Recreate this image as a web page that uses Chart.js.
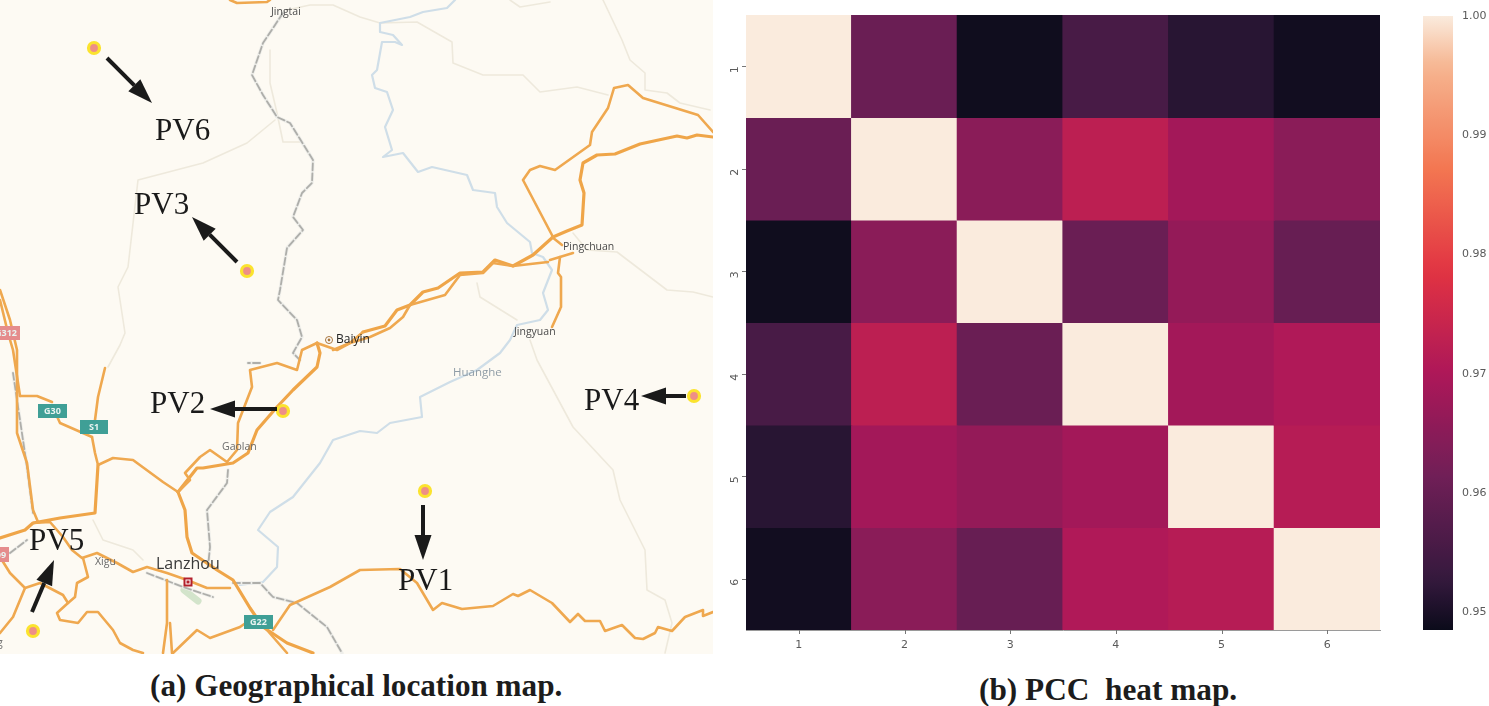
<!DOCTYPE html>
<html>
<head>
<meta charset="utf-8">
<script src="https://cdn.jsdelivr.net/npm/chart.js@4/dist/chart.umd.min.js"></script>
<style>
html,body{margin:0;padding:0;background:#fff;overflow:hidden;width:1489px;height:706px}
.box{position:absolute}
.cap{position:absolute;font-family:"Liberation Serif",serif;font-weight:bold;color:#1c1c1c;white-space:pre;line-height:1}
</style>
</head>
<body>
<div class="box" style="left:0;top:0;width:713px;height:654px"><canvas id="map"></canvas></div>
<div class="box" style="left:715px;top:0;width:680px;height:660px"><canvas id="heat"></canvas></div>
<div class="box" style="left:1400px;top:0;width:89px;height:660px"><canvas id="bar"></canvas></div>
<div class="cap" id="capA" style="left:150px;top:670px;font-size:31.2px">(a) Geographical location map.</div>
<div class="cap" id="capB" style="left:979px;top:674px;font-size:31.3px">(b) PCC  heat map.</div>
<script>
/* ---------- heat map data ---------- */
const heatLabels = ['1','2','3','4','5','6'];
const row1 = [1.000,0.9605,0.9490,0.9555,0.9515,0.9492];
const row2 = [0.9605,1.000,0.9650,0.9725,0.9685,0.9650];
const row3 = [0.9490,0.9650,1.000,0.9605,0.9665,0.9600];
const row4 = [0.9555,0.9725,0.9605,1.000,0.9685,0.9705];
const row5 = [0.9515,0.9685,0.9665,0.9685,1.000,0.9715];
const row6 = [0.9492,0.9650,0.9600,0.9705,0.9715,1.000];
const heatRows = [row1,row2,row3,row4,row5,row6];
const colorbarTicks = [0.95,0.96,0.97,0.98,0.99,1.00];
const colorbarMin = 0.9485, colorbarMax = 1.0;

/* ---------- map data: sites, roads, rivers ---------- */
const siteNames = ['PV1','PV2','PV3','PV4','PV5','PV6'];
const sitePoints = [[425,491],[283,411],[247,271],[694,396],[33,631],[94,48]];
const siteLabelAnchors = [[398,590],[150,413],[134,214],[584,410],[29,550],[155,140]];
const arrowTails = [[423,505],[277,409],[237,262],[686,396],[32,612],[107,58]];
const arrowTips = [[423,560],[210,409],[192,217],[641,396],[54,560],[152,103]];

const roadMainA=[[363,332],[385,326],[397,310],[410,305],[423,292],[438,288],[460,273],[483,272],[495,260],[513,266],[533,255],[553,237],[567,231],[582,225],[584,193],[580,180],[583,163],[597,155],[615,154],[640,144],[677,136],[687,138],[697,135],[713,137]];
const roadMainB=[[333,350],[350,343],[370,337],[390,328],[403,317],[410,305],[445,295],[460,275],[483,273],[493,263],[513,266]];
const roadLoop=[[553,237],[523,180],[530,170],[540,166],[555,170],[590,145],[592,132],[608,108],[614,88],[628,85],[643,98],[698,115],[713,132]];
const roadStub1=[[552,237],[562,245]];
const roadStub2=[[513,266],[548,262]];
const roadStub3=[[550,260],[573,253]];
const roadJingyuan=[[560,257],[558,273],[561,277],[561,307],[552,327]];
const roadBaiyin=[[317,343],[337,350],[350,343],[363,332]];
const roadGaolanA=[[317,343],[320,353],[317,367],[293,390],[277,407],[257,430],[248,453],[233,463],[203,468],[197,468],[178,492]];
const roadGaolanB=[[317,343],[302,350],[297,370],[277,363],[250,370],[252,387],[238,423],[237,450],[227,462],[210,450],[200,457],[185,473],[190,480],[178,492]];
const roadSouth=[[178,492],[185,510],[187,537],[192,553],[217,570],[233,580],[250,608],[263,627],[287,643],[313,653]];
const roadWest=[[178,492],[163,482],[133,460],[113,458],[98,465],[95,453],[92,437]];
const roadWest2=[[98,465],[95,513],[60,518],[33,523],[25,530],[0,538]];
const roadS1=[[95,420],[98,397],[105,368]];
const roadG30=[[92,437],[60,423],[55,412]];
const roadG30b=[[52,402],[37,396],[20,396]];
const roadNW1=[[0,290],[10,320],[17,350],[17,433],[27,463],[33,510],[38,522]];
const roadNW2=[[0,300],[8,333],[13,350],[20,396]];
const roadCity=[[33,523],[50,522],[63,537],[72,550],[82,558],[97,553],[117,563],[133,572],[147,567],[167,573],[187,580],[207,588],[230,588]];
const roadSW1=[[83,558],[88,577],[77,583],[75,597],[68,603],[57,613],[60,620],[78,623],[87,612],[98,612],[113,630],[120,643],[133,650],[143,653]];
const roadSW2=[[0,557],[10,573],[25,588],[40,583],[63,595],[68,603]];
const roadSW3=[[25,588],[13,617],[0,633]];
const roadCityS1=[[167,580],[167,623],[163,653]];
const roadCityS2=[[172,653],[170,623]];
const roadCityS3=[[173,653],[197,630],[210,638],[240,627],[250,620]];
const roadG22=[[287,653],[267,630]];
const roadEast=[[273,630],[290,605],[330,587],[360,570],[400,569],[417,583],[433,610],[442,603],[462,609],[493,606],[513,594],[518,596],[530,590],[552,603],[570,622],[578,614],[585,621],[600,621],[605,631],[622,625],[635,638],[643,639],[655,633],[658,627],[672,631],[685,617],[703,610],[703,616],[713,612]];
const roadTop=[[230,0],[237,3],[267,2],[270,0]];

const riverMain=[[455,0],[447,8],[423,12],[410,17],[380,23],[380,32],[393,35],[402,45],[395,42],[382,42],[377,70],[372,75],[375,88],[387,92],[393,110],[385,127],[392,150],[383,157],[403,153],[418,172],[432,167],[467,175],[473,190],[495,193],[497,207],[507,223],[530,242],[532,253],[543,257],[552,270],[543,293],[548,310],[540,320],[517,325],[510,340],[500,353],[477,370],[450,382],[420,397],[422,417],[390,423],[377,433],[360,431],[333,440],[320,463],[293,497],[270,512],[258,530],[278,547],[277,567],[263,582],[240,585]];

const railNorth=[[283,13],[263,43],[252,75],[263,95],[277,117],[290,123],[313,160],[312,183],[302,193],[293,217],[303,230],[287,248],[280,290],[278,300],[297,320],[302,337],[293,353],[300,360]];
const railLink=[[260,363],[248,363]];
const railGaolan=[[228,470],[227,483],[207,510],[210,547],[208,567]];
const railEast=[[233,583],[260,583],[273,597],[297,603],[327,627],[342,653]];
const railCity=[[147,573],[183,587],[213,597]];
const railWest=[[10,553],[27,540]];
const railWest2=[[13,373],[27,467],[33,513]];

const paleA=[[275,120],[247,143],[203,163],[138,180],[128,267],[118,287],[125,333],[120,345],[108,367]];
const paleB=[[270,50],[270,83],[277,113],[283,142],[300,142]];
const paleC=[[287,10],[310,5],[333,5],[360,17],[380,23],[417,22],[452,42],[453,63],[483,75],[523,75],[540,92],[577,87],[608,95]];
const paleD=[[603,0],[622,40],[630,60],[645,73],[645,90],[667,93],[680,103],[710,110]];
const paleE=[[573,233],[587,250],[617,252],[667,290],[693,292],[713,297]];
const paleF=[[477,283],[480,297],[517,320]];
const paleG=[[530,340],[537,360],[573,427],[613,470],[620,500],[645,550],[647,590],[665,600],[672,623],[665,653]];
const paleH=[[510,0],[520,7],[550,2]];
const paleI=[[93,520],[103,540],[133,550],[143,560]];
const parkPatch=[[184,590],[198,601]];

const placeNames=['Jingtai','Baiyin','Pingchuan','Jingyuan','Huanghe','Gaolan','Xigu','Lanzhou','g'];
const placeAnchors=[[271,12],[336,340],[563,247],[514,332],[453,373],[222,447],[95,562],[156,564],[-3,643]];
const roadBadges=['G30','S1','G22','G312','09'];
const badgeBoxes=[[38,404,29,14],[80,420,28,14],[244,615,29,14],[-8,326,28,14],[-7,547,16,15]];

/* ---------- styles ---------- */
const rocketStops=[[0,[11,11,26]],[1/12,[53,25,62]],[3/12,[112,31,87]],[5/12,[173,23,89]],[7/12,[225,51,66]],[9/12,[243,118,81]],[11/12,[246,180,143]],[1,[250,235,221]]];
function rocket(v){
  const t=Math.max(0,Math.min(1,(v-colorbarMin)/(colorbarMax-colorbarMin)));
  for(let i=1;i<rocketStops.length;i++){
    if(t<=rocketStops[i][0]){
      const a=rocketStops[i-1],b=rocketStops[i],f=(t-a[0])/(b[0]-a[0]);
      const c=a[1].map((x,k)=>Math.round(x+(b[1][k]-x)*f));
      return 'rgb('+c.join(',')+')';
    }
  }
  return 'rgb(250,235,221)';
}
const pts=a=>a.map(p=>({x:p[0],y:p[1]}));
const poly=(a,color,width,dash)=>({type:'scatter',showLine:true,data:pts(a),borderColor:color,borderWidth:width,pointRadius:0,borderDash:dash||[],borderJoinStyle:'round',borderCapStyle:'round',tension:0,fill:false});

/* ---------- map chart ---------- */
const layers=[];
[paleA,paleB,paleC,paleD,paleE,paleF,paleG,paleH,paleI].forEach(a=>layers.push(poly(a,'#eee9dc',1.6)));
layers.push(poly(parkPatch,'#d3e4cb',7));
layers.push(poly(riverMain,'#cfdee8',2.2));
[railNorth,railLink,railGaolan,railEast,railCity,railWest,railWest2].forEach(a=>{
  layers.push(poly(a,'#eeeeea',3.4));
  layers.push(poly(a,'#aeaeaa',1.8,[7,3]));
});
[roadMainA,roadSouth,roadWest2,roadGaolanA].forEach(a=>layers.push(poly(a,'#efa548',3.2)));
[roadMainB,roadLoop,roadStub1,roadStub2,roadStub3,roadJingyuan,roadBaiyin,roadGaolanB,roadWest,roadS1,roadG30,roadG30b,roadNW1,roadNW2,roadCity,roadSW1,roadSW2,roadSW3,roadCityS1,roadCityS2,roadCityS3,roadG22,roadEast,roadTop].forEach(a=>layers.push(poly(a,'#efa84f',2.6)));
layers.push({type:'scatter',data:pts(sitePoints),pointRadius:5.5,pointBorderWidth:3.2,pointBackgroundColor:'#ee8f86',pointBorderColor:'#fbe32e',pointHoverRadius:5.5});
layers.reverse();

const mapPlugin={
  id:'mapDecor',
  beforeDraw(c){
    const g=c.ctx,a=c.chartArea;
    g.save();g.fillStyle='#fdfaf3';g.fillRect(a.left,a.top,a.right-a.left,a.bottom-a.top);g.restore();
  },
  afterDatasetsDraw(c){
    const g=c.ctx,X=v=>c.scales.x.getPixelForValue(v),Y=v=>c.scales.y.getPixelForValue(v);
    g.save();
    // badges
    roadBadges.forEach((t,i)=>{
      const b=badgeBoxes[i],pink=t==='G312'||t==='09';
      g.fillStyle=pink?'#e58c8c':'#3f9f96';
      g.fillRect(X(b[0]),Y(b[1]),b[2],b[3]);
      g.fillStyle='#e9f4f1';g.font='bold 9px "Open Sans"';g.textAlign='center';g.textBaseline='middle';
      g.fillText(t,X(b[0])+b[2]/2,Y(b[1])+b[3]/2+.5);
    });
    // place names
    placeNames.forEach((t,i)=>{
      const p=placeAnchors[i];
      const big=t==='Lanzhou',dark=t==='Baiyin',water=t==='Huanghe',soft=t==='Gaolan'||t==='Xigu'||t==='g';
      g.font=(big?'16px':dark?'12px':water?'11.5px':'10.5px')+' "Open Sans"';
      g.fillStyle=big?'#3a3a3a':dark?'#222':water?'#8f9ca6':soft?'#6a6a6a':'#4a4a4a';
      g.textAlign='left';g.textBaseline='middle';
      g.fillText(t,X(p[0]),Y(p[1]));
    });
    // city markers
    g.fillStyle='#fff';g.strokeStyle='#a8743a';g.lineWidth=1;
    g.beginPath();g.arc(X(329),Y(340),3.5,0,7);g.fill();g.stroke();
    g.fillStyle='#a8743a';g.beginPath();g.arc(X(329),Y(340),1.4,0,7);g.fill();
    g.fillStyle='#fff';g.strokeStyle='#b3202c';g.lineWidth=2;
    g.fillRect(X(184.5),Y(578.5),7,7);g.strokeRect(X(184.5),Y(578.5),7,7);
    g.fillStyle='#b3202c';g.fillRect(X(186.5),Y(580.5),3,3);
    // arrows
    g.strokeStyle=g.fillStyle='#1a1a1a';
    arrowTails.forEach((s,i)=>{
      const e=arrowTips[i],x0=X(s[0]),y0=Y(s[1]),x1=X(e[0]),y1=Y(e[1]);
      const ang=Math.atan2(y1-y0,x1-x0),hl=25,hw=8.5;
      const bx=x1-hl*Math.cos(ang),by=y1-hl*Math.sin(ang);
      g.lineWidth=4;g.beginPath();g.moveTo(x0,y0);g.lineTo(bx,by);g.stroke();
      g.beginPath();g.moveTo(x1,y1);
      g.lineTo(bx-hw*Math.sin(ang),by+hw*Math.cos(ang));
      g.lineTo(bx+hw*Math.sin(ang),by-hw*Math.cos(ang));
      g.closePath();g.fill();
    });
    // PV labels
    g.fillStyle='#1a1a1a';g.font='31px "Liberation Serif"';g.textAlign='left';g.textBaseline='alphabetic';
    siteNames.forEach((t,i)=>{const p=siteLabelAnchors[i];g.fillText(t,X(p[0]),Y(p[1]));});
    g.restore();
  }
};
new Chart(document.getElementById('map'),{
  type:'scatter',
  data:{datasets:layers},
  options:{responsive:true,maintainAspectRatio:false,animation:false,events:[],
    layout:{padding:0,autoPadding:false},
    plugins:{legend:{display:false},tooltip:{enabled:false}},
    scales:{x:{type:'linear',min:0,max:713,display:false},y:{type:'linear',min:0,max:654,reverse:true,display:false}}},
  plugins:[mapPlugin]
});

/* ---------- heat map chart ---------- */
const tickFont={family:'"DejaVu Sans"',size:11};
const heatDatasets=heatRows.map((row,r)=>({
  label:'row '+heatLabels[r],
  data:row.map(()=>[r,r+1]),
  backgroundColor:row.map(rocket),
  borderWidth:0,
  inflateAmount:0.6,
  barPercentage:1,categoryPercentage:1,grouped:false
}));
new Chart(document.getElementById('heat'),{
  type:'bar',
  data:{labels:heatLabels,datasets:heatDatasets},
  options:{responsive:true,maintainAspectRatio:false,animation:false,events:[],
    layout:{padding:{top:15,right:15,left:0,bottom:0},autoPadding:false},
    plugins:{legend:{display:false},tooltip:{enabled:false}},
    scales:{
      x:{type:'category',grid:{display:false,drawTicks:false},border:{display:true,color:'#9a9a9a',width:1},
        ticks:{font:tickFont,color:'#5a5a5a',padding:9,maxRotation:0,minRotation:0},
        afterFit(s){s.height=30;s.paddingLeft=0;s.paddingRight=0;}},
      y:{type:'linear',min:0,max:6,reverse:true,grid:{display:false,drawTicks:false},border:{display:false},
        afterBuildTicks(s){s.ticks=heatLabels.map((_,i)=>({value:i+0.5}));},
        ticks:{font:tickFont,color:'#5a5a5a',padding:11,minRotation:90,maxRotation:90,callback:v=>heatLabels[Math.floor(v)]},
        afterFit(s){s.width=31;s.paddingTop=0;s.paddingBottom=0;}}
    }
  },
  plugins:[{id:'tickMarks',afterDraw(c){
    const g=c.ctx,a=c.chartArea;g.save();g.strokeStyle='#777';g.lineWidth=1;
    heatLabels.forEach((_,i)=>{
      const px=Math.round(c.scales.x.getPixelForValue(i))+.5,py=Math.round(c.scales.y.getPixelForValue(i+.5))+.5;
      g.beginPath();g.moveTo(px,a.bottom);g.lineTo(px,a.bottom+4);g.moveTo(a.left,py);g.lineTo(a.left-4,py);g.stroke();
    });g.restore();
  }}]
});

/* ---------- colour bar ---------- */
new Chart(document.getElementById('bar'),{
  type:'bar',
  data:{labels:['PCC'],datasets:[{data:[[colorbarMin,colorbarMax]],barPercentage:1,categoryPercentage:1,borderWidth:0,
    backgroundColor(ctx){
      const s=ctx.chart.scales.y;
      if(!s||!ctx.chart.chartArea) return '#000';
      const gr=ctx.chart.ctx.createLinearGradient(0,s.getPixelForValue(colorbarMax),0,s.getPixelForValue(colorbarMin));
      for(let i=0;i<=40;i++){const t=i/40;gr.addColorStop(t,rocket(colorbarMax-(colorbarMax-colorbarMin)*t));}
      return gr;
    }}]},
  options:{responsive:true,maintainAspectRatio:false,animation:false,events:[],
    layout:{padding:{top:16,left:23,right:0,bottom:0},autoPadding:false},
    plugins:{legend:{display:false},tooltip:{enabled:false}},
    scales:{
      x:{display:true,grid:{display:false,drawTicks:false},border:{display:false},ticks:{display:false},afterFit(s){s.height=30;}},
      y:{type:'linear',position:'right',min:colorbarMin,max:colorbarMax,
        grid:{display:false,drawTicks:true,tickLength:4,tickColor:'#777'},border:{display:false},
        afterBuildTicks(s){s.ticks=colorbarTicks.map(v=>({value:v}));},
        ticks:{font:tickFont,color:'#5a5a5a',padding:5,callback:v=>Number(v).toFixed(2)},
        afterFit(s){s.width=36;}}
    }
  }
});
</script>
</body>
</html>
